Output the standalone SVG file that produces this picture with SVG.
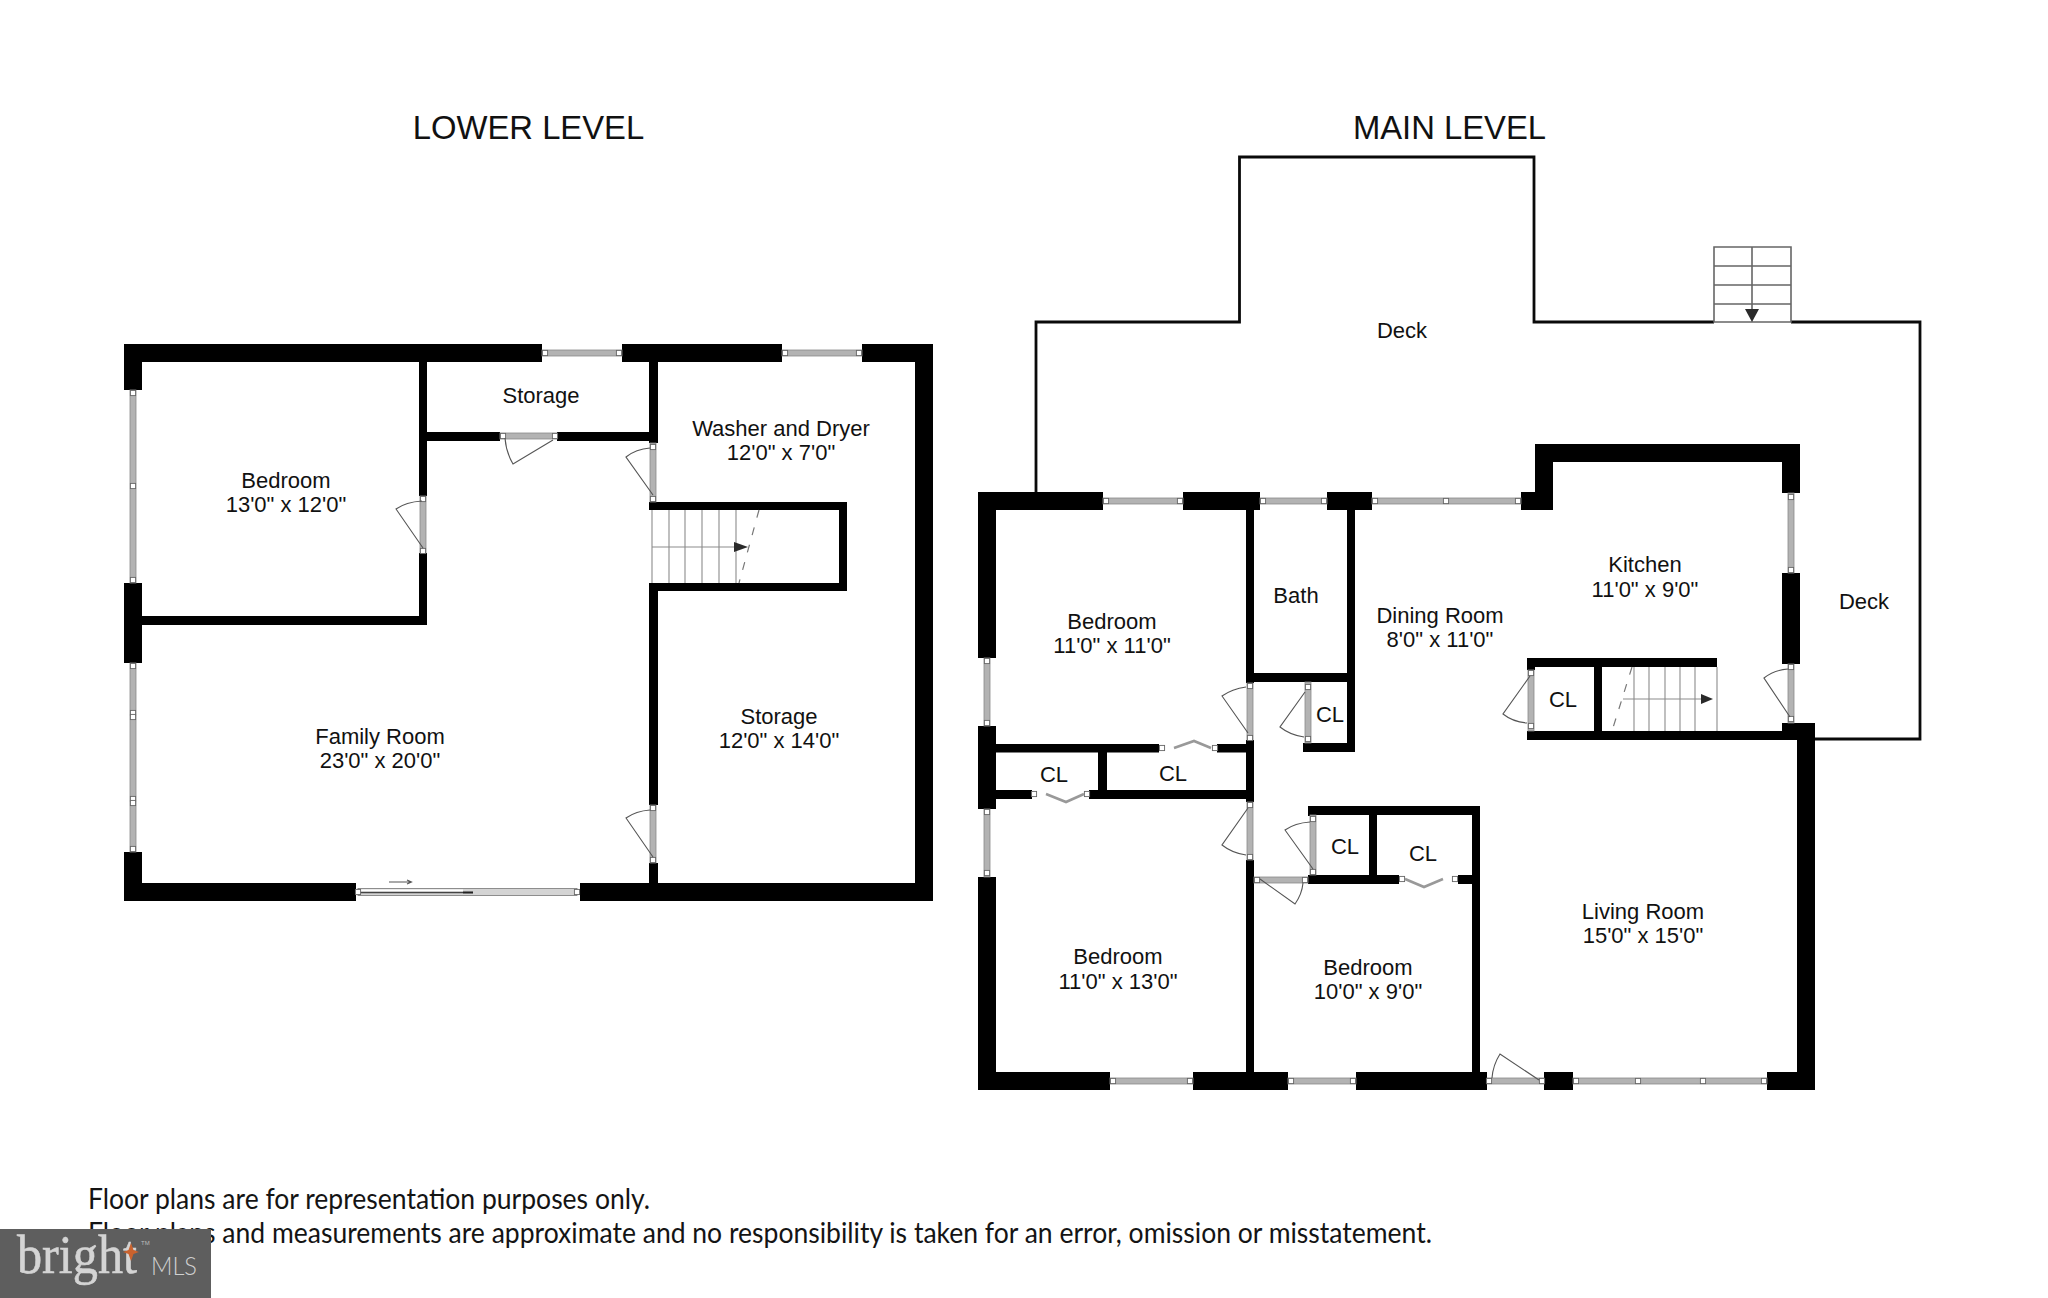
<svg xmlns="http://www.w3.org/2000/svg" width="2048" height="1298" viewBox="0 0 2048 1298">
<defs>
<style>
.wall{fill:#000}
.bar{fill:#b3b3b3;stroke:#8a8a8a;stroke-width:.8}
.sw{fill:#fff;stroke:#666;stroke-width:.9}
.leaf{fill:none;stroke:#555;stroke-width:1.1}
.bi{fill:none;stroke:#999;stroke-width:2.6;stroke-linejoin:miter}
.tr{stroke:#8c8c8c;stroke-width:1.1;fill:none}
.dash{stroke:#777;stroke-width:1.2;stroke-dasharray:8 10;fill:none}
.ar{stroke:#555;stroke-width:1.1;fill:none}
.hd{fill:#2a2a2a}
.deck{fill:none;stroke:#0a0a0a;stroke-width:2.8}
.ds{fill:none;stroke:#666;stroke-width:1.6}
text{font-family:"Liberation Sans",Arial,sans-serif;fill:#111}
.lb{font-size:22px;text-anchor:middle}
.ti{font-size:32.8px;text-anchor:middle}
.fn{font-family:Lato,"Noto Sans",sans-serif;font-size:28px;fill:#141414}
</style>
<rect id="s" class="sw" x="-2.6" y="-2.6" width="5.2" height="5.2"/>
</defs>
<rect width="2048" height="1298" fill="#fff"/>

<text class="ti" x="528.500" y="139">LOWER LEVEL</text>
<text class="ti" x="1449.500" y="139">MAIN LEVEL</text>

<g id="lower-level">
<g id="lower-walls" class="wall">
<rect x="124" y="344" width="418" height="18"/>
<rect x="622" y="344" width="160" height="18"/>
<rect x="862" y="344" width="71" height="18"/>
<rect x="124" y="344" width="18" height="46"/>
<rect x="124" y="583" width="18" height="80"/>
<rect x="124" y="852" width="18" height="49"/>
<rect x="142" y="616" width="285" height="9"/>
<rect x="419" y="362" width="8" height="134"/>
<rect x="419" y="553" width="8" height="72"/>
<rect x="427" y="432" width="73" height="9"/>
<rect x="557" y="432" width="101" height="9"/>
<rect x="649" y="362" width="9" height="81"/>
<rect x="649" y="502" width="198" height="8"/>
<rect x="839" y="502" width="8" height="89"/>
<rect x="649" y="583" width="198" height="8"/>
<rect x="649" y="583" width="9" height="222"/>
<rect x="649" y="863" width="9" height="25"/>
<rect x="915" y="344" width="18" height="557"/>
<rect x="124" y="883" width="232" height="18"/>
<rect x="580" y="883" width="353" height="18"/>
</g>
<g id="lower-windows">
<rect class="bar" x="542" y="350" width="80" height="6"/><use href="#s" x="545" y="353"/><use href="#s" x="619" y="353"/>
<rect class="bar" x="782" y="350" width="80" height="6"/><use href="#s" x="785" y="353"/><use href="#s" x="859" y="353"/>
<rect class="bar" x="130" y="390" width="6" height="193"/><use href="#s" x="133" y="393"/><use href="#s" x="133" y="486"/><use href="#s" x="133" y="580"/>
<rect class="bar" x="130" y="663" width="6" height="189"/><use href="#s" x="133" y="666"/><use href="#s" x="133" y="713"/><use href="#s" x="133" y="717"/><use href="#s" x="133" y="799"/><use href="#s" x="133" y="803"/><use href="#s" x="133" y="849"/>
</g>
<g id="lower-doors">
<rect class="bar" x="420" y="496" width="6" height="57"/><use href="#s" x="423" y="499"/><use href="#s" x="423" y="551"/>
<path class="leaf" d="M423 548L396 509Q406 502 422 501"/>
<rect class="bar" x="500" y="433" width="57" height="6"/><use href="#s" x="503" y="436"/><use href="#s" x="555" y="436"/>
<path class="leaf" d="M553 440L513 464Q506 452 505 438"/>
<rect class="bar" x="650" y="443" width="6" height="59"/><use href="#s" x="653" y="447"/><use href="#s" x="653" y="499"/>
<path class="leaf" d="M653 495L626 457Q636 449 650 448"/>
<rect class="bar" x="650" y="805" width="6" height="58"/><use href="#s" x="653" y="808"/><use href="#s" x="653" y="860"/>
<path class="leaf" d="M653 857L626 818Q636 811 650 810"/>
<rect fill="#d4d4d4" stroke="#777" stroke-width=".8" x="358" y="888.500" width="219" height="7"/>
<rect fill="#fff" x="360" y="889.500" width="103" height="2.300"/>
<line x1="358" y1="892.500" x2="473" y2="892.500" stroke="#444" stroke-width="1.300"/>
<line x1="463" y1="892.500" x2="473" y2="892.500" stroke="#222" stroke-width="1.800"/>
<use href="#s" x="358" y="892"/><use href="#s" x="577" y="892"/>
<path class="ar" d="M389 882H411M407 880L411.500 882L407 884"/>
</g>
<g id="lower-stairs">
<path class="tr" d="M652 510V583M669 510V583M685 510V583M702 510V583M719 510V583M736 510V583M652 547H736"/>
<path class="hd" d="M734 542L748 547L734 552Z"/>
<path class="dash" d="M759 510L739 583"/>
</g>
<text class="lb" x="286" y="488">Bedroom</text><text class="lb" x="286" y="512">13'0" x 12'0"</text>
<text class="lb" x="541" y="403">Storage</text>
<text class="lb" x="781" y="436">Washer and Dryer</text><text class="lb" x="781" y="460">12'0" x 7'0"</text>
<text class="lb" x="380" y="744">Family Room</text><text class="lb" x="380" y="768">23'0" x 20'0"</text>
<text class="lb" x="779" y="724">Storage</text><text class="lb" x="779" y="748">12'0" x 14'0"</text>
</g>

<g id="main-level">
<g id="deck">
<path class="deck" d="M1036 492V322H1239.500V157H1534V322H1714M1791 322H1920V739H1815"/>
<path class="ds" d="M1714 247H1791V322H1714ZM1714 266H1791M1714 285H1791M1714 304H1791M1752 247V312"/>
<path class="hd" d="M1745 309H1759L1752 322Z"/>
<text class="lb" x="1402" y="338">Deck</text>
<text class="lb" x="1864" y="609">Deck</text>
</g>
<g id="main-walls" class="wall">
<rect x="978" y="492" width="125" height="18"/>
<rect x="1183" y="492" width="77" height="18"/>
<rect x="1327" y="492" width="45" height="18"/>
<rect x="1521" y="492" width="32" height="18"/>
<rect x="1535" y="444" width="18" height="66"/>
<rect x="1535" y="444" width="265" height="18"/>
<rect x="1782" y="444" width="18" height="49"/>
<rect x="1782" y="573" width="18" height="91"/>
<rect x="1782" y="723" width="33" height="17"/>
<rect x="1797" y="723" width="18" height="367"/>
<rect x="978" y="492" width="18" height="166"/>
<rect x="978" y="726" width="18" height="83"/>
<rect x="978" y="877" width="18" height="213"/>
<rect x="978" y="1072" width="132" height="18"/>
<rect x="1193" y="1072" width="95" height="18"/>
<rect x="1356" y="1072" width="131" height="18"/>
<rect x="1544" y="1072" width="29" height="18"/>
<rect x="1767" y="1072" width="48" height="18"/>
<rect x="1246" y="510" width="8" height="173"/>
<rect x="1246" y="740" width="8" height="62"/>
<rect x="1246" y="860" width="8" height="212"/>
<rect x="1347" y="510" width="8" height="242"/>
<rect x="1254" y="673" width="93" height="9"/>
<rect x="1303" y="743" width="52" height="9"/>
<rect x="996" y="744" width="163" height="8.500"/>
<rect x="1217" y="744" width="37" height="8.500"/>
<rect x="1098" y="752" width="9" height="38"/>
<rect x="996" y="790" width="36" height="9"/>
<rect x="1089" y="790" width="165" height="9"/>
<rect x="1527" y="658" width="190" height="9"/>
<rect x="1527" y="658" width="8" height="12"/>
<rect x="1527" y="731" width="270" height="9"/>
<rect x="1594" y="667" width="8" height="64"/>
<rect x="1308" y="806" width="172" height="9"/>
<rect x="1472" y="806" width="8" height="266"/>
<rect x="1308" y="806" width="8" height="10"/>
<rect x="1308" y="875" width="91" height="9"/>
<rect x="1458" y="875" width="14" height="9"/>
<rect x="1369" y="815" width="8" height="60"/>
</g>
<g id="main-windows">
<rect class="bar" x="1103" y="498" width="80" height="6"/><use href="#s" x="1106" y="501"/><use href="#s" x="1180" y="501"/>
<rect class="bar" x="1260" y="498" width="67" height="6"/><use href="#s" x="1263" y="501"/><use href="#s" x="1324" y="501"/>
<rect class="bar" x="1372" y="498" width="149" height="6"/><use href="#s" x="1375" y="501"/><use href="#s" x="1446" y="501"/><use href="#s" x="1518" y="501"/>
<rect class="bar" x="984" y="658" width="6" height="68"/><use href="#s" x="987" y="661"/><use href="#s" x="987" y="723"/>
<rect class="bar" x="984" y="809" width="6" height="68"/><use href="#s" x="987" y="812"/><use href="#s" x="987" y="873"/>
<rect class="bar" x="1110" y="1078" width="83" height="6"/><use href="#s" x="1113" y="1081"/><use href="#s" x="1190" y="1081"/>
<rect class="bar" x="1288" y="1078" width="68" height="6"/><use href="#s" x="1291" y="1081"/><use href="#s" x="1353" y="1081"/>
<rect class="bar" x="1573" y="1078" width="194" height="6"/><use href="#s" x="1576" y="1081"/><use href="#s" x="1638" y="1081"/><use href="#s" x="1703" y="1081"/><use href="#s" x="1764" y="1081"/>
<rect class="bar" x="1788" y="493" width="6" height="80"/><use href="#s" x="1791" y="497"/><use href="#s" x="1791" y="570"/>
</g>
<g id="main-doors">
<rect class="bar" x="1247" y="683" width="6" height="57"/><use href="#s" x="1250" y="686"/><use href="#s" x="1250" y="738"/>
<path class="leaf" d="M1248 733L1222 696Q1232 689 1246 687"/>
<rect class="bar" x="1305" y="682" width="6" height="61"/><use href="#s" x="1308" y="687"/><use href="#s" x="1308" y="739"/>
<path class="leaf" d="M1305 692L1280 727Q1290 735 1304 737"/>
<rect class="bar" x="1247" y="802" width="6" height="58"/><use href="#s" x="1250" y="805"/><use href="#s" x="1250" y="857"/>
<path class="leaf" d="M1248 808L1222 845Q1232 853 1246 855"/>
<rect class="bar" x="1310" y="815" width="6" height="60"/><use href="#s" x="1313" y="819"/><use href="#s" x="1313" y="872"/>
<path class="leaf" d="M1313 869L1285 830Q1295 823 1310 822"/>
<rect class="bar" x="1254" y="877" width="54" height="6"/><use href="#s" x="1257" y="880"/><use href="#s" x="1305" y="880"/>
<path class="leaf" d="M1260 879L1295 904Q1302 894 1303 883"/>
<rect class="bar" x="1487" y="1078" width="57" height="6"/><use href="#s" x="1489" y="1081"/><use href="#s" x="1542" y="1081"/>
<path class="leaf" d="M1539 1080L1500 1054Q1493 1065 1492 1078"/>
<rect class="bar" x="1528" y="670" width="6" height="61"/><use href="#s" x="1531" y="673"/><use href="#s" x="1531" y="726"/>
<path class="leaf" d="M1530 676L1503 714Q1513 722 1527 723"/>
<rect class="bar" x="1788" y="664" width="6" height="59"/><use href="#s" x="1791" y="667"/><use href="#s" x="1791" y="719"/>
<path class="leaf" d="M1790 717L1764 678Q1774 670 1788 669"/>
<use href="#s" x="1162" y="748"/><use href="#s" x="1215" y="748"/>
<path class="bi" d="M1211 748L1194 741L1174 748"/>
<use href="#s" x="1034" y="794"/><use href="#s" x="1087" y="794"/>
<path class="bi" d="M1046 794L1066 802L1084 794"/>
<use href="#s" x="1402" y="879"/><use href="#s" x="1455" y="879"/>
<path class="bi" d="M1405 879L1424 887L1443 879"/>
</g>
<g id="main-stairs">
<path class="tr" d="M1634 667V731M1649 667V731M1665 667V731M1680 667V731M1695 667V731M1717 667V731M1623 699H1702"/>
<path class="hd" d="M1701 694L1713 699L1701 704Z"/>
<path class="dash" d="M1632 667L1612 731"/>
</g>
<text class="lb" x="1112" y="629">Bedroom</text><text class="lb" x="1112" y="653">11'0" x 11'0"</text>
<text class="lb" x="1296" y="603">Bath</text>
<text class="lb" x="1440" y="623">Dining Room</text><text class="lb" x="1440" y="647">8'0" x 11'0"</text>
<text class="lb" x="1645" y="572">Kitchen</text><text class="lb" x="1645" y="597">11'0" x 9'0"</text>
<text class="lb" x="1054" y="782">CL</text>
<text class="lb" x="1173" y="781">CL</text>
<text class="lb" x="1330" y="722">CL</text>
<text class="lb" x="1563" y="707">CL</text>
<text class="lb" x="1345" y="854">CL</text>
<text class="lb" x="1423" y="861">CL</text>
<text class="lb" x="1118" y="964">Bedroom</text><text class="lb" x="1118" y="989">11'0" x 13'0"</text>
<text class="lb" x="1368" y="975">Bedroom</text><text class="lb" x="1368" y="999">10'0" x 9'0"</text>
<text class="lb" x="1643" y="919">Living Room</text><text class="lb" x="1643" y="943">15'0" x 15'0"</text>
</g>

<g id="footer">
<text class="fn" x="88" y="1209" textLength="562" lengthAdjust="spacingAndGlyphs">Floor plans are for representation purposes only.</text>
<text class="fn" x="88" y="1243" textLength="1344" lengthAdjust="spacingAndGlyphs">Floor plans and measurements are approximate and no responsibility is taken for an error, omission or misstatement.</text>
</g>
<g id="bright-badge">
<rect x="0" y="1229" width="211" height="69" fill="#5e5e5e"/>
<text x="17" y="1273" font-size="54" style="font-family:'Liberation Serif',serif;fill:#d4d4d4;stroke:#d4d4d4;stroke-width:.6" textLength="120" lengthAdjust="spacingAndGlyphs">bright</text>
<path d="M131 1243L133.500 1250L139 1252L133.500 1254L131 1261L128.500 1254L123 1252L128.500 1250Z" fill="#c9622e"/>
<text x="151" y="1275" font-size="25" style="font-family:Lato,sans-serif;font-weight:300;fill:#d0d0d0" textLength="46" lengthAdjust="spacingAndGlyphs">MLS</text>
<text x="141" y="1245" font-size="6" style="fill:#bbb">TM</text>
</g>
</svg>
